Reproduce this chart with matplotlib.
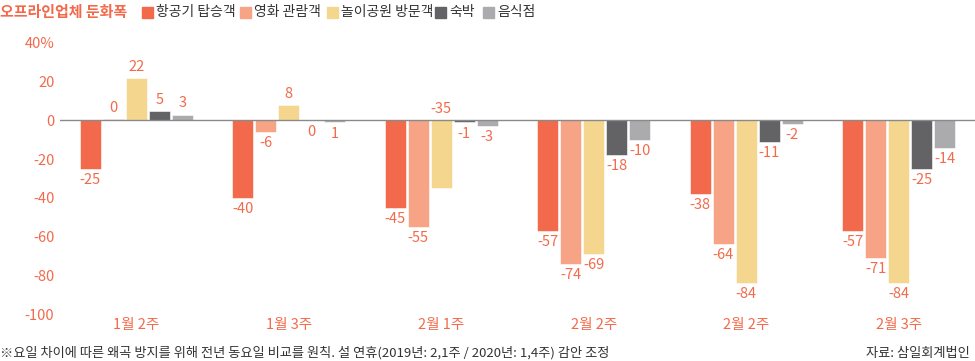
import matplotlib
matplotlib.use("Agg")
import matplotlib.pyplot as plt
import numpy as np

plt.rcParams['font.family'] = ['Noto Sans CJK KR', 'DejaVu Sans']

# data ------------------------------------------------------------
weeks = ["1월 2주", "1월 3주", "2월 1주", "2월 2주", "2월 2주", "2월 3주"]
series = ["항공기 탑승객", "영화 관람객", "놀이공원 방문객", "숙박", "음식점"]
airline = [-25, -40, -45, -57, -38, -57]
cinema = [0.6, -6, -55, -74, -64, -71]
park = [22, 8, -35, -69, -84, -84]
lodging = [5, 0, -1, -18, -11, -25]
food = [3, -1, -3, -10, -2, -14]
# labels as printed on the chart
airline_lbl = ["-25", "-40", "-45", "-57", "-38", "-57"]
cinema_lbl = ["0", "-6", "-55", "-74", "-64", "-71"]
park_lbl = ["22", "8", "-35", "-69", "-84", "-84"]
lodging_lbl = ["5", "0", "-1", "-18", "-11", "-25"]
food_lbl = ["3", "1", "-3", "-10", "-2", "-14"]
yticks = [40, 20, 0, -20, -40, -60, -80, -100]
ytick_labels = ["40%", "20", "0", "-20", "-40", "-60", "-80", "-100"]

colors = ["#F26A4B", "#F6A386", "#F5D68F", "#636365", "#ABABAE"]
accent = "#F26A4B"

W, H = 975, 361
fig = plt.figure(figsize=(W / 100, H / 100), dpi=100)
ax = fig.add_axes([60 / W, (H - 314) / H, 1 - 60 / W, (314 - 43) / H])

values = [airline, cinema, park, lodging, food]
labels = [airline_lbl, cinema_lbl, park_lbl, lodging_lbl, food_lbl]
x = np.arange(len(weeks))
bw = 0.138
step = 0.151

for i, (vals, lbls) in enumerate(zip(values, labels)):
    xs = x + (i - 2) * step
    ax.bar(xs, vals, width=bw, color=colors[i], edgecolor="white", linewidth=0.4, zorder=2)
    for j, (xx, v, t) in enumerate(zip(xs, vals, lbls)):
        # park label in 2월 1주 sits above the axis in the original
        if v > 0 or (i == 2 and j == 2):
            yy, off, va = max(v, 0), 3, "bottom"
        else:
            yy, off, va = v, -3, "top"
        ax.annotate(t, (xx, yy), xytext=(0, off), textcoords="offset points",
                    ha="center", va=va, color=accent, fontsize=10.5)

ax.axhline(0, color="#8a8a8a", linewidth=1, zorder=3)
ax.set_xlim(-0.5, 5.5)
ax.set_ylim(-100, 40)
ax.set_yticks(yticks)
ax.set_yticklabels(ytick_labels)
ax.tick_params(axis="y", length=0, pad=4, labelcolor=accent, labelsize=10.5)
ax.set_xticks([])
for s in ax.spines.values():
    s.set_visible(False)

for xx, w in zip(x, weeks):
    ax.text(xx, -105.8, w, ha="center", va="center", color=accent, fontsize=10.5, clip_on=False)

# title & legend --------------------------------------------------
fig.text(0, 1 - 12 / H, "오프라인업체 둔화폭", color=accent, fontsize=10.8,
         fontweight="bold", va="center", ha="left")
leg_x = [142, 240, 327, 435, 483]
for lx, name, c in zip(leg_x, series, colors):
    fig.patches.append(plt.Rectangle((lx / W, 1 - 18 / H), 11 / W, 11 / H,
                                     transform=fig.transFigure, color=c))
    fig.text((lx + 14) / W, 1 - 12 / H, name, color="#333333", fontsize=10,
             va="center", ha="left")

fig.text(0, 1 - 353 / H, "※요일 차이에 따른 왜곡 방지를 위해 전년 동요일 비교를 원칙. 설 연휴(2019년: 2,1주 / 2020년: 1,4주) 감안 조정",
         color="#333333", fontsize=9.5, va="center", ha="left")
fig.text(970 / W, 1 - 353 / H, "자료: 삼일회계법인", color="#333333", fontsize=9.5,
         va="center", ha="right")

fig.savefig("out.png", dpi=100)
